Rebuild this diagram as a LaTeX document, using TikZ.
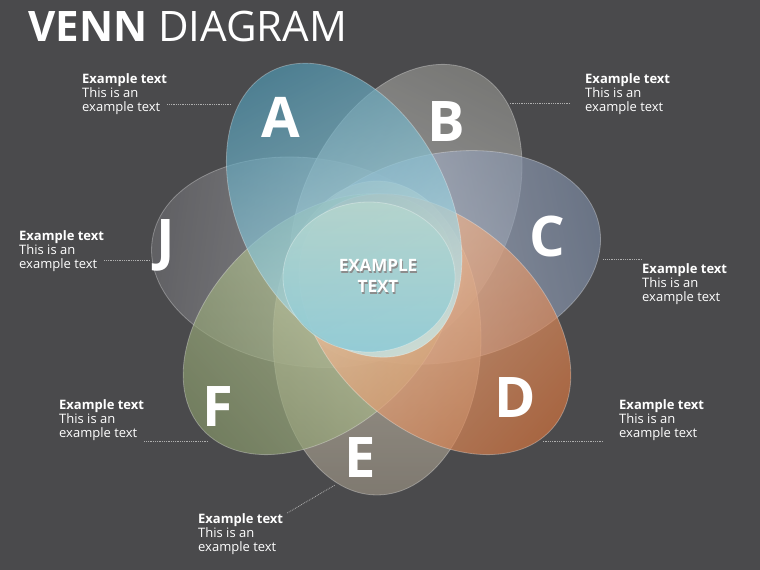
\documentclass[tikz,border=0pt]{standalone}
\usepackage{fontspec}
\setmainfont{Open Sans}
\usetikzlibrary{positioning}
\definecolor{bgc}{RGB}{74,74,76}
% petal colours: i = inner end, o = outer end
\definecolor{petAi}{RGB}{198,240,246}
\definecolor{petAo}{RGB}{80,150,176}
\definecolor{petBi}{RGB}{206,206,206}
\definecolor{petBo}{RGB}{140,140,136}
\definecolor{petCi}{RGB}{200,206,222}
\definecolor{petCo}{RGB}{120,134,158}
\definecolor{petDi}{RGB}{246,206,176}
\definecolor{petDo}{RGB}{208,114,62}
\definecolor{petEi}{RGB}{220,214,198}
\definecolor{petEo}{RGB}{150,142,128}
\definecolor{petFi}{RGB}{210,222,178}
\definecolor{petFo}{RGB}{132,148,104}
\definecolor{petJi}{RGB}{186,186,190}
\definecolor{petJo}{RGB}{106,106,110}
\definecolor{coretop}{RGB}{182,214,206}
\definecolor{corebot}{RGB}{140,202,214}
\definecolor{leadclr}{RGB}{175,175,175}
\tikzset{
    petal/.style={draw=white, draw opacity=0.3, line width=0.8pt},
    lettr/.style={text=white, inner sep=0pt, anchor=base,
        font=\fontsize{56}{56}\selectfont\bfseries},
    note/.style={text=white, inner sep=0pt, anchor=north west, align=left,
        font=\fontsize{13}{14}\selectfont},
    leader/.style={draw=leadclr, densely dotted, line width=0.8pt},
    headline/.style={text=white, inner sep=0pt, anchor=base west,
        font=\fontsize{42}{42}\selectfont},
    coretext/.style={align=center, font=\fontsize{17}{21}\selectfont\bfseries}
}

\begin{document}
\begin{tikzpicture}[x=1pt,y=1pt]
% background
\fill[bgc] (0,0) rectangle (760,570);
\node[headline] (title) at (28,528) {{\bfseries VENN} DIAGRAM};
% petals, light towards the middle
\foreach \ang/\dist/\pet in {172/70/J, 64/66/B, 12/70/C, -90/66/E, -138/78/F,
    -42/78/D, 118/70/A}{
    \begin{scope}[transform canvas={shift={(377,298)}, rotate=\ang}]
        \shade[left color=pet\pet i, right color=pet\pet o, fill opacity=0.7]
            (\dist,0) ellipse [x radius=157pt, y radius=104pt];
        \draw[petal] (\dist,0) ellipse [x radius=157pt, y radius=104pt];
    \end{scope}
}
% centre
\shade[top color=coretop, bottom color=corebot, fill opacity=0.85]
    (369,293) ellipse [x radius=86pt, y radius=75pt];
\draw[petal] (369,293) ellipse [x radius=86pt, y radius=75pt];
\node[coretext, text=black!45] (coreshade) at (379,292.5) {EXAMPLE\\TEXT};
\node[coretext, text=white] (core) at (378,294) {EXAMPLE\\TEXT};
% letters
\node[lettr] (la) at (281,432) {A};
\node[lettr] (lb) at (446,428) {B};
\node[lettr] (lc) at (547,313) {C};
\node[lettr] (ld) at (515,152) {D};
\node[lettr] (le) at (360,92) {E};
\node[lettr] (lf) at (218,143) {F};
\node[lettr] (lj) at (166,310) {J};
% notes
\node[note] (na) at (82,497) {\textbf{Example text}\\This is an\\example text};
\node[note] (nb) at (585,497) {\textbf{Example text}\\This is an\\example text};
\node[note] (nj) at (19,340) {\textbf{Example text}\\This is an\\example text};
\node[note] (nc) at (642,307) {\textbf{Example text}\\This is an\\example text};
\node[note] (nf) at (59,171) {\textbf{Example text}\\This is an\\example text};
\node[note] (nd) at (619,171) {\textbf{Example text}\\This is an\\example text};
\node[note] (ne) at (198,57) {\textbf{Example text}\\This is an\\example text};
% leaders
\coordinate (pa) at (232,466);
\coordinate (pb) at (510,467);
\coordinate (pj) at (150,310);
\coordinate (pc) at (603,311);
\coordinate (pf) at (208,129);
\coordinate (pd) at (543,129);
\coordinate (pe) at (335,85);
\draw[leader] (na.east |- pa) -- (pa);
\draw[leader, shorten <=15pt] (nb.west |- pb) -- (pb);
\draw[leader] (nj.east |- pj) -- (pj);
\draw[leader] (nc.west |- pc) -- (pc);
\draw[leader] (nf.east |- pf) -- (pf);
\draw[leader, shorten <=16pt] (nd.west |- pd) -- (pd);
\draw[leader] ([xshift=4pt]ne.north east) -- (pe);
\end{tikzpicture}
\end{document}
